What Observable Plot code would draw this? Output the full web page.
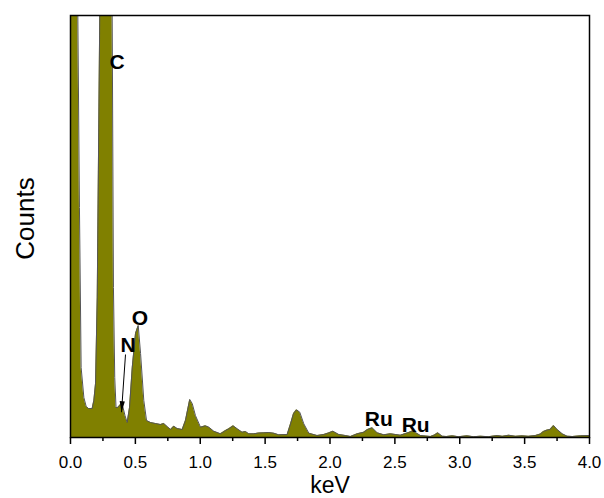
<!DOCTYPE html>
<html>
<head>
<meta charset="utf-8">
<script src="https://cdn.jsdelivr.net/npm/d3@7"></script>
<script src="https://cdn.jsdelivr.net/npm/@observablehq/plot@0.6"></script>
<style>
  html, body { margin: 0; padding: 0; background: #fff; }
  #chart { width: 604px; height: 498px; }
</style>
</head>
<body>
<div id="chart"></div>
<script>
// EDS spectrum (energy in keV, relative counts)
const energy = [0.000,0.023,0.056,0.069,0.082,0.103,0.121,0.139,0.167,0.180,0.193,0.206,0.226,0.247,0.270,0.293,0.321,0.331,0.341,0.351,0.364,0.385,0.403,0.420,0.437,0.455,0.476,0.501,0.522,0.540,0.565,0.586,0.617,0.655,0.694,0.719,0.745,0.771,0.796,0.822,0.861,0.886,0.919,0.938,0.963,1.002,1.040,1.066,1.104,1.156,1.195,1.220,1.254,1.285,1.323,1.349,1.374,1.413,1.449,1.490,1.526,1.567,1.605,1.670,1.696,1.719,1.742,1.767,1.798,1.837,1.901,1.952,1.988,2.022,2.068,2.119,2.158,2.210,2.260,2.289,2.325,2.364,2.415,2.466,2.505,2.543,2.582,2.607,2.634,2.659,2.697,2.736,2.775,2.805,2.831,2.865,2.898,2.944,2.990,3.057,3.106,3.160,3.222,3.289,3.329,3.378,3.430,3.481,3.530,3.584,3.622,3.645,3.674,3.696,3.723,3.751,3.790,3.828,3.869,3.931,4.000];
const counts = [700,700,430,230,70,40,31,29,29,37,54,140,430,800,900,800,430,150,60,30,30,33,31,22,15,30,70,104,112,84,37,17,15,14,13,14,11,8,11.3,9,8,17,38,34,22,10.3,11.7,10.3,6.3,3.7,7,8.7,11.7,8.7,5.3,6,3.7,3.7,4.5,4.7,5,4.3,2.7,3,13.7,24,27.7,25.3,13.7,4.3,2,3,4.5,6.3,3,2,1,3.7,5.3,8,9.7,4.7,2.7,3.7,3,2.3,4,5,6.5,5,2,1.5,1,2.5,4.7,1.3,1,1.7,0.8,1.7,0.8,1.3,0.8,2,1.2,2.3,1.2,1.7,1.2,2,3.5,6,7.5,8,12,8,3.7,1.3,1,1.7,2];

// peak labels
const peakNames = ["C", "O", "N", "Ru", "Ru"];
const peakX = [0.359, 0.536, 0.443, 2.376, 2.660];
const peakY = [375, 119.5, 92.3, 18.3, 12.5];

// arrow for N
const arrowX1 = [0.424], arrowY1 = [83], arrowX2 = [0.393], arrowY2 = [25.3];

const majorTicks = [0, 0.5, 1.0, 1.5, 2.0, 2.5, 3.0, 3.5, 4.0];
const minorTicks = [0.25, 0.75, 1.25, 1.75, 2.25, 2.75, 3.25, 3.75];

const data = energy.map((e, i) => ({e, c: counts[i]}));
const labels = peakNames.map((t, i) => ({t, x: peakX[i], y: peakY[i]}));
const arrows = arrowX1.map((d, i) => ({x1: d, y1: arrowY1[i], x2: arrowX2[i], y2: arrowY2[i]}));

const font = "'Liberation Sans', Arial, Helvetica, sans-serif";

// narrow filled arrowhead, tip at the origin pointing down
const arrowHead = {
  draw(ctx) {
    ctx.moveTo(0, 0);
    ctx.lineTo(-2.6, -11);
    ctx.lineTo(2.6, -11);
    ctx.closePath();
  }
};

const chart = Plot.plot({
  width: 604,
  height: 498,
  marginLeft: 70,
  marginRight: 15,
  marginTop: 15,
  marginBottom: 61,
  style: {fontFamily: font, color: "black", background: "white"},
  x: {domain: [0, 4]},
  y: {domain: [0, 422], axis: null},
  marks: [
    Plot.areaY(data, {x: "e", y: "c", fill: "#808000", clip: true, curve: "linear"}),
    Plot.lineY(data, {x: "e", y: "c", stroke: "#555", strokeWidth: 1, clip: true}),
    Plot.frame({stroke: "black", strokeWidth: 1.5}),
    Plot.axisX({ticks: minorTicks, tickSize: 4, text: null, label: null, strokeWidth: 1.5}),
    Plot.axisX({ticks: majorTicks, tickSize: 7, tickFormat: d3.format(".1f"), label: null, fontSize: 17, tickPadding: 11, strokeWidth: 1.5}),
    Plot.text(["keV"], {frameAnchor: "bottom", lineAnchor: "middle", dy: 48, fontSize: 23, fill: "black"}),
    Plot.text(["Counts"], {frameAnchor: "left", textAnchor: "middle", lineAnchor: "middle", dx: -45, dy: -8, rotate: -90, fontSize: 26, fill: "black"}),
    Plot.text(labels, {x: "x", y: "y", text: "t", fontSize: 21, fontWeight: "bold", fill: "black"}),
    Plot.link(arrows, {x1: "x1", y1: "y1", x2: "x2", y2: "y2", stroke: "black", strokeWidth: 1}),
    Plot.dot(arrows, {x: "x2", y: "y2", symbol: arrowHead, rotate: 4, fill: "black", stroke: "none"})
  ]
});
document.getElementById("chart").appendChild(chart);
</script>
</body>
</html>
